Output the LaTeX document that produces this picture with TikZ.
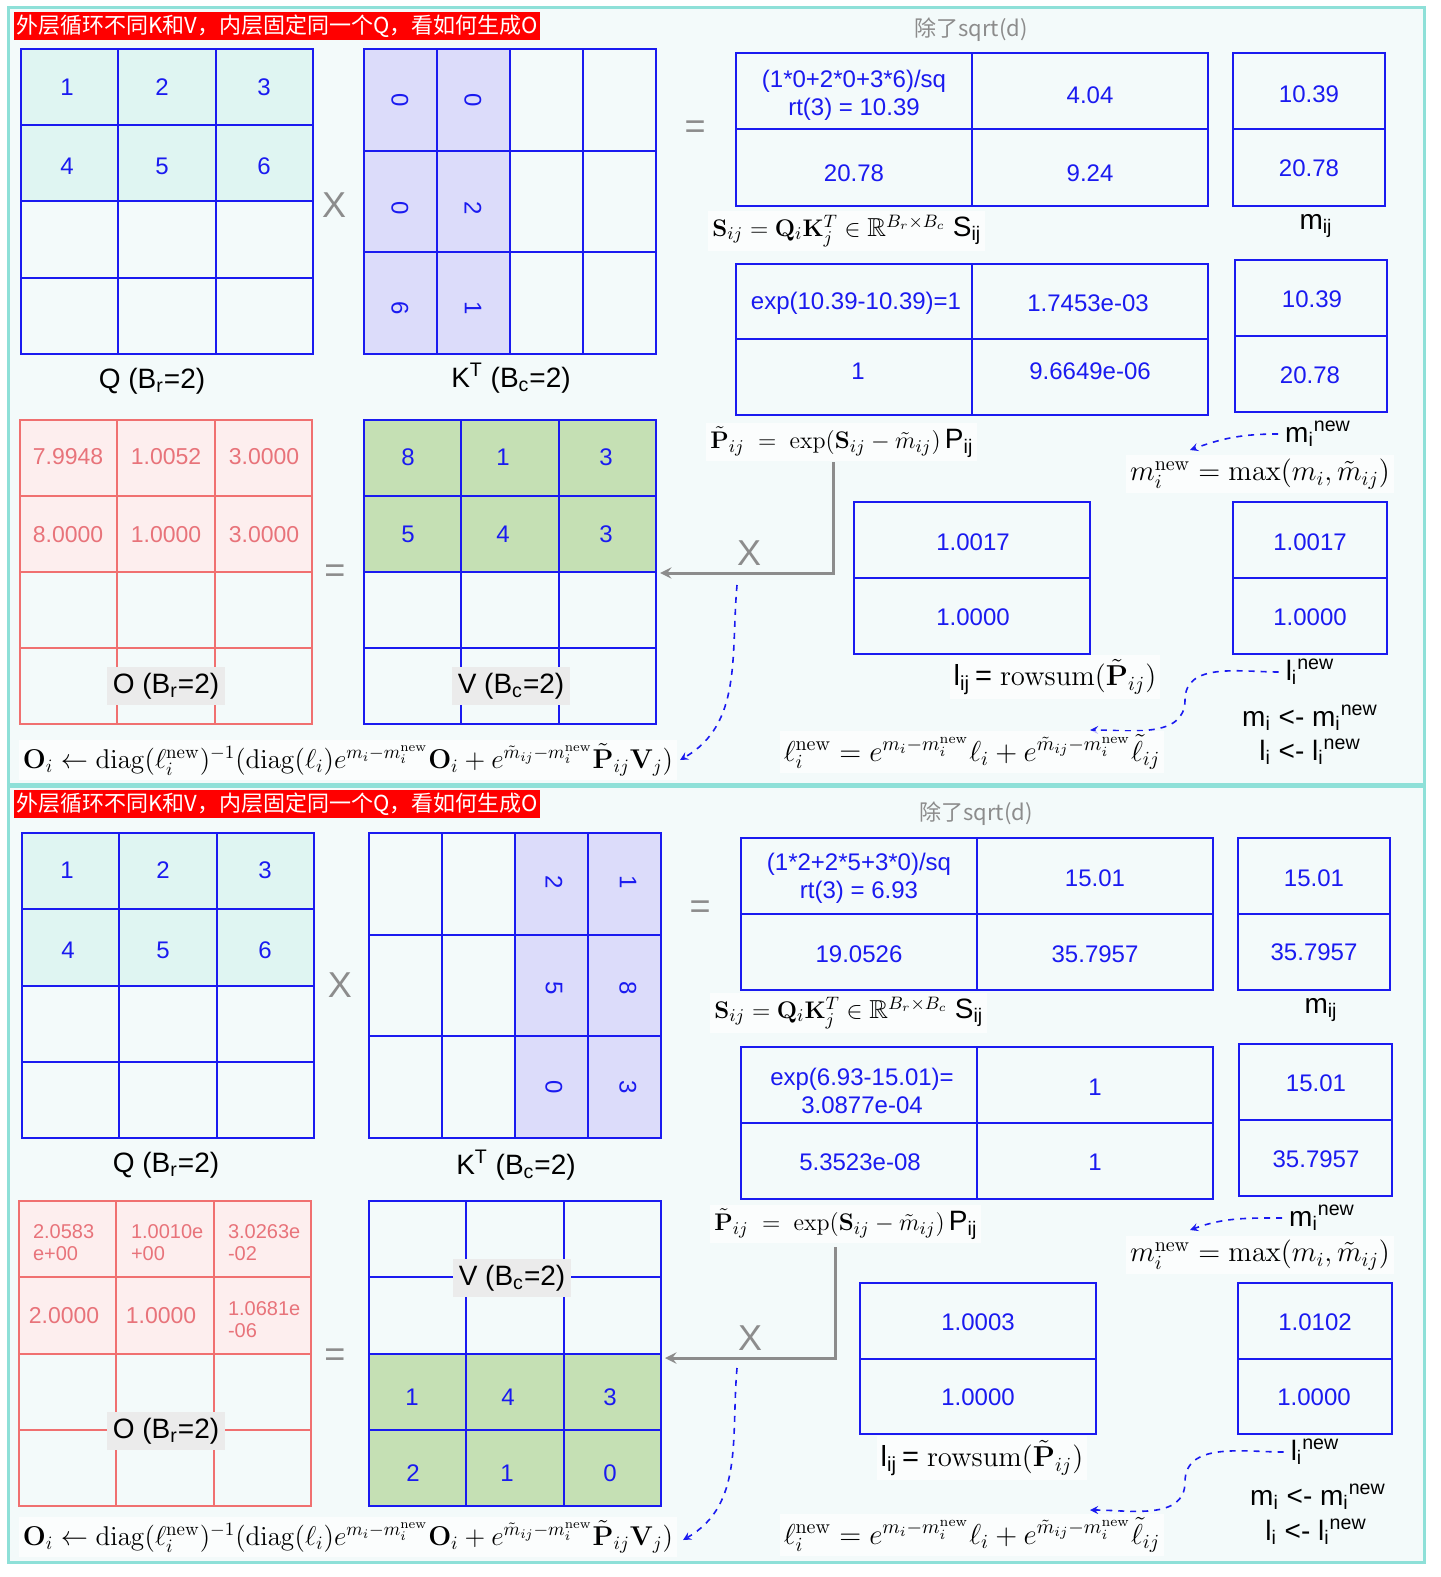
\documentclass[tikz,border=0pt]{standalone}
\usepackage{amsmath,amssymb,bm,graphicx}
\usepackage[no-math]{fontspec}
\setmainfont{Liberation Sans}
\newfontfamily\cjk{Noto Sans CJK SC}
\definecolor{bl}{HTML}{1A1AF0}
\definecolor{qf}{HTML}{DFF5F2}
\definecolor{kf}{HTML}{DCDCFA}
\definecolor{vf}{HTML}{C5E0B4}
\definecolor{of}{HTML}{FDEEEE}
\definecolor{ol}{HTML}{F07070}
\definecolor{ot}{HTML}{E8737A}
\definecolor{frm}{HTML}{8EE0D8}
\definecolor{bgc}{HTML}{F3FAFA}
\newcommand\nw{\mathrm{new}}
\newcommand\ofm{\resizebox{325pt}{!}{$\mathbf{O}_i\leftarrow\mathrm{diag}(\ell_i^{\nw})^{-1}(\mathrm{diag}(\ell_i)e^{m_i-m_i^{\nw}}\mathbf{O}_i+e^{\tilde m_{ij}-m_i^{\nw}}\tilde{\mathbf{P}}_{ij}\mathbf{V}_j)$}}
\newcommand\grd[7]{%
 \draw[line width=1.2pt,#7] (#1,#2) rectangle (#3,#4);
 \pgfmathsetmacro\dx{(#3-#1)/#5}\pgfmathsetmacro\dy{(#4-#2)/#6}
 \ifnum#5>1 \foreach \i in {1,...,\numexpr#5-1\relax}{\draw[line width=1pt,#7] ({#1+\i*\dx},#2)--({#1+\i*\dx},#4);}\fi
 \ifnum#6>1 \foreach \j in {1,...,\numexpr#6-1\relax}{\draw[line width=1pt,#7] (#1,{#2+\j*\dy})--(#3,{#2+\j*\dy});}\fi}
\tikzset{num/.style={text=bl,font=\fontsize{12}{14}\selectfont,align=center},
 onum/.style={text=ot,font=\fontsize{11.5}{13}\selectfont,align=center},
 onums/.style={text=ot,font=\fontsize{10}{11}\selectfont,align=left},
 lab/.style={font=\fontsize{14}{16}\selectfont},
 glab/.style={font=\fontsize{14}{16}\selectfont,fill=black!8,inner sep=3pt},
 fml/.style={font=\fontsize{13}{15}\selectfont,fill=white,fill opacity=0.7,text opacity=1,inner sep=2pt},
 bfml/.style={font=\fontsize{14.5}{16}\selectfont,fill=white,fill opacity=0.7,text opacity=1,inner sep=2pt},
 gray/.style={text=black!45,font=\fontsize{18}{20}\selectfont},
 hdr/.style={fill=red,text=white,font=\cjk\fontsize{11}{13}\selectfont,inner sep=1pt,anchor=north west,minimum height=14pt},
 conn/.style={draw=black!45,line width=1.5pt,-stealth},
 dsh/.style={draw=bl,dashed,line width=0.8pt,-stealth}}
\begin{document}
\begin{tikzpicture}[x=0.5pt,y=-0.5pt]
\fill[white] (0,0) rectangle (1440,1577);
\foreach \oy in {0,778}{
\begin{scope}[yshift={-\oy*0.5pt}]
\draw[frm,line width=1.5pt,fill=bgc] (8,8) rectangle (1424,784);
\node[hdr] at (14,12) {外层循环不同K和V，内层固定同一个Q，看如何生成O};
\end{scope}}
% ===================== PANEL 1 =====================
\fill[qf] (21,49) rectangle (313,202);
\grd{21}{49}{313}{354}{3}{4}{bl}
\foreach \t/\x/\y in {1/67/87,2/162/87,3/264/87,4/67/166,5/162/166,6/264/166}
 \node[num] at (\x,\y) {\t};
\node[gray] (x1) at (334,205) {X};
\fill[kf] (364,49) rectangle (510,354);
\grd{364}{49}{656}{354}{4}{3}{bl}
\foreach \t/\x/\y in {0/400/100,0/473/100,0/400/208,2/473/208,6/400/308,1/473/308}
 \node[num,rotate=-90] at (\x,\y) {\t};
\node[lab] (ql1) at (152,381) {Q (B\textsubscript{r}=2)};
\node[lab] (kl1) at (511,378) {K\textsuperscript{T} (B\textsubscript{c}=2)};
\node[gray] at (695,130) {=};
\node[text=black!45,font=\fontsize{11}{13}\selectfont\cjk] at (971,30) {除了sqrt(d)};
\grd{736}{53}{1208}{206}{2}{2}{bl}
\node[num] at (854,95) {(1*0+2*0+3*6)/sq\\rt(3) = 10.39};
\node[num] at (1090,95) {4.04};
\node[num] at (854,173) {20.78};
\node[num] at (1090,173) {9.24};
\grd{1233}{53}{1385}{206}{1}{2}{bl}
\node[num] at (1309,94) {10.39};
\node[num] at (1309,168) {20.78};
\node[fml,anchor=west] (sf1) at (708,231) {$\mathbf{S}_{ij}=\mathbf{Q}_i\mathbf{K}_j^T\in\mathbb{R}^{B_r\times B_c}$ \fontsize{14}{15}\selectfont S\textsubscript{ij}};
\node[lab] at (1316,226) {m\textsubscript{ij}};
\grd{736}{264}{1208}{415}{2}{2}{bl}
\node[num] at (856,303) {exp(10.39-10.39)=1};
\node[num] at (1088,303) {1.7453e-03};
\node[num] at (858,371) {1};
\node[num] at (1090,371) {9.6649e-06};
\grd{1235}{260}{1387}{412}{1}{2}{bl}
\node[num] at (1312,299) {10.39};
\node[num] at (1310,375) {20.78};
\node[fml,anchor=west] (pf1) at (706,442) {$\tilde{\mathbf{P}}_{ij}\;=\;\exp(\mathbf{S}_{ij}-\tilde m_{ij})$\,\fontsize{14}{15}\selectfont P\textsubscript{ij}};
\node[lab] (mn1) at (1318,434) {m\textsubscript{i}\textsuperscript{new}};
\node[bfml] (mx1) at (1260,474) {$m_i^{\nw}=\max(m_i,\tilde m_{ij})$};
\draw[dsh] (mn1.west) to[out=180,in=20] (1190,450);
\fill[of] (20,420) rectangle (312,572);
\grd{20}{420}{312}{724}{3}{4}{ol}
\foreach \t/\x/\y in {7.9948/68/457,1.0052/166/457,3.0000/264/457,8.0000/68/535,1.0000/166/535,3.0000/264/535}
 \node[onum] at (\x,\y) {\t};
\node[glab] (ol1) at (166,686) {O (B\textsubscript{r}=2)};
\node[gray] at (335,574) {=};
\fill[vf] (364,420) rectangle (656,572);
\grd{364}{420}{656}{724}{3}{4}{bl}
\foreach \t/\x/\y in {8/408/457,1/503/457,3/606/457,5/408/534,4/503/534,3/606/534}
 \node[num] at (\x,\y) {\t};
\node[glab] (vl1) at (511,686) {V (B\textsubscript{c}=2)};
\coordinate (c1) at (833,462);
\draw[conn] (c1) |- (660,573);
\node[gray] at (749,553) {X};
\draw[dsh] (737,585) to[out=-95,in=30] (680,760);
\grd{854}{502}{1090}{654}{1}{2}{bl}
\node[num] at (973,542) {1.0017};
\node[num] at (973,617) {1.0000};
\grd{1233}{502}{1387}{654}{1}{2}{bl}
\node[num] at (1310,542) {1.0017};
\node[num] at (1310,617) {1.0000};
\node[bfml] at (1055,677) {l\textsubscript{ij}\,= $\mathrm{rowsum}(\tilde{\mathbf{P}}_{ij})$};
\node[lab] (ln1) at (1310,672) {l\textsubscript{i}\textsuperscript{new}};
\draw[dsh] (ln1.west) to[out=180,in=90] (1185,700) to[out=-90,in=0] (1090,730);
\node[lab] at (1310,718) {m\textsubscript{i} <- m\textsubscript{i}\textsuperscript{new}};
\node[lab] at (1310,752) {l\textsubscript{i} <- l\textsubscript{i}\textsuperscript{new}};
\node[bfml] at (972,752) {$\ell_i^{\nw}=e^{m_i-m_i^{\nw}}\ell_i+e^{\tilde m_{ij}-m_i^{\nw}}\tilde\ell_{ij}$};
\node[bfml] at (348,760) {\ofm};
% ===================== PANEL 2 =====================
\fill[qf] (22,833) rectangle (314,986);
\grd{22}{833}{314}{1138}{3}{4}{bl}
\foreach \t/\x/\y in {1/67/870,2/163/870,3/265/870,4/68/950,5/163/950,6/265/950}
 \node[num] at (\x,\y) {\t};
\node[gray] at (340,985) {X};
\fill[kf] (515,833) rectangle (661,1138);
\grd{369}{833}{661}{1138}{4}{3}{bl}
\foreach \t/\x/\y in {2/554/882,1/628/882,5/554/988,8/628/988,0/554/1087,3/628/1087}
 \node[num,rotate=-90] at (\x,\y) {\t};
\node[lab] at (166,1165) {Q (B\textsubscript{r}=2)};
\node[lab] at (516,1165) {K\textsuperscript{T} (B\textsubscript{c}=2)};
\node[gray] at (700,910) {=};
\node[text=black!45,font=\fontsize{11}{13}\selectfont\cjk] at (976,814) {除了sqrt(d)};
\grd{741}{838}{1213}{990}{2}{2}{bl}
\node[num] at (859,878) {(1*2+2*5+3*0)/sq\\rt(3) = 6.93};
\node[num] at (1095,878) {15.01};
\node[num] at (859,954) {19.0526};
\node[num] at (1095,954) {35.7957};
\grd{1238}{838}{1390}{990}{1}{2}{bl}
\node[num] at (1314,878) {15.01};
\node[num] at (1314,952) {35.7957};
\node[fml,anchor=west] at (710,1013) {$\mathbf{S}_{ij}=\mathbf{Q}_i\mathbf{K}_j^T\in\mathbb{R}^{B_r\times B_c}$ \fontsize{14}{15}\selectfont S\textsubscript{ij}};
\node[lab] at (1321,1010) {m\textsubscript{ij}};
\grd{741}{1047}{1213}{1199}{2}{2}{bl}
\node[num] at (862,1091) {exp(6.93-15.01)=\\3.0877e-04};
\node[num] at (1095,1087) {1};
\node[num] at (860,1162) {5.3523e-08};
\node[num] at (1095,1162) {1};
\grd{1239}{1044}{1392}{1196}{1}{2}{bl}
\node[num] at (1316,1083) {15.01};
\node[num] at (1316,1159) {35.7957};
\node[fml,anchor=west] at (710,1224) {$\tilde{\mathbf{P}}_{ij}\;=\;\exp(\mathbf{S}_{ij}-\tilde m_{ij})$\,\fontsize{14}{15}\selectfont P\textsubscript{ij}};
\node[lab] (mn2) at (1322,1218) {m\textsubscript{i}\textsuperscript{new}};
\node[bfml] at (1260,1255) {$m_i^{\nw}=\max(m_i,\tilde m_{ij})$};
\draw[dsh] (mn2.west) to[out=180,in=20] (1190,1230);
\fill[of] (19,1201) rectangle (311,1354);
\grd{19}{1201}{311}{1506}{3}{4}{ol}
\node[onums,anchor=west] at (26,1243) {2.0583\\e+00};
\node[onums,anchor=west] at (124,1243) {1.0010e\\+00};
\node[onums,anchor=west] at (221,1243) {3.0263e\\-02};
\node[onum] at (64,1316) {2.0000};
\node[onum] at (161,1316) {1.0000};
\node[onums,anchor=west] at (221,1320) {1.0681e\\-06};
\node[glab] at (166,1431) {O (B\textsubscript{r}=2)};
\node[gray] at (335,1358) {=};
\fill[vf] (369,1354) rectangle (661,1506);
\grd{369}{1201}{661}{1506}{3}{4}{bl}
\foreach \t/\x/\y in {1/412/1397,4/508/1397,3/610/1397,2/413/1473,1/507/1473,0/610/1473}
 \node[num] at (\x,\y) {\t};
\node[glab] at (512,1278) {V (B\textsubscript{c}=2)};
\coordinate (c2) at (835,1247);
\draw[conn] (c2) |- (665,1358);
\node[gray] at (750,1338) {X};
\draw[dsh] (737,1368) to[out=-95,in=30] (683,1540);
\grd{860}{1283}{1096}{1434}{1}{2}{bl}
\node[num] at (978,1322) {1.0003};
\node[num] at (978,1397) {1.0000};
\grd{1238}{1283}{1392}{1434}{1}{2}{bl}
\node[num] at (1315,1322) {1.0102};
\node[num] at (1314,1397) {1.0000};
\node[bfml] at (982,1458) {l\textsubscript{ij}\,= $\mathrm{rowsum}(\tilde{\mathbf{P}}_{ij})$};
\node[lab] (ln2) at (1315,1452) {l\textsubscript{i}\textsuperscript{new}};
\draw[dsh] (ln2.west) to[out=180,in=90] (1185,1482) to[out=-90,in=0] (1090,1510);
\node[lab] at (1318,1497) {m\textsubscript{i} <- m\textsubscript{i}\textsuperscript{new}};
\node[lab] at (1316,1532) {l\textsubscript{i} <- l\textsubscript{i}\textsuperscript{new}};
\node[bfml] at (972,1535) {$\ell_i^{\nw}=e^{m_i-m_i^{\nw}}\ell_i+e^{\tilde m_{ij}-m_i^{\nw}}\tilde\ell_{ij}$};
\node[bfml] at (348,1537) {\ofm};
\pgfresetboundingbox
\useasboundingbox (0,0) rectangle (1440,1577);
\end{tikzpicture}
\end{document}
